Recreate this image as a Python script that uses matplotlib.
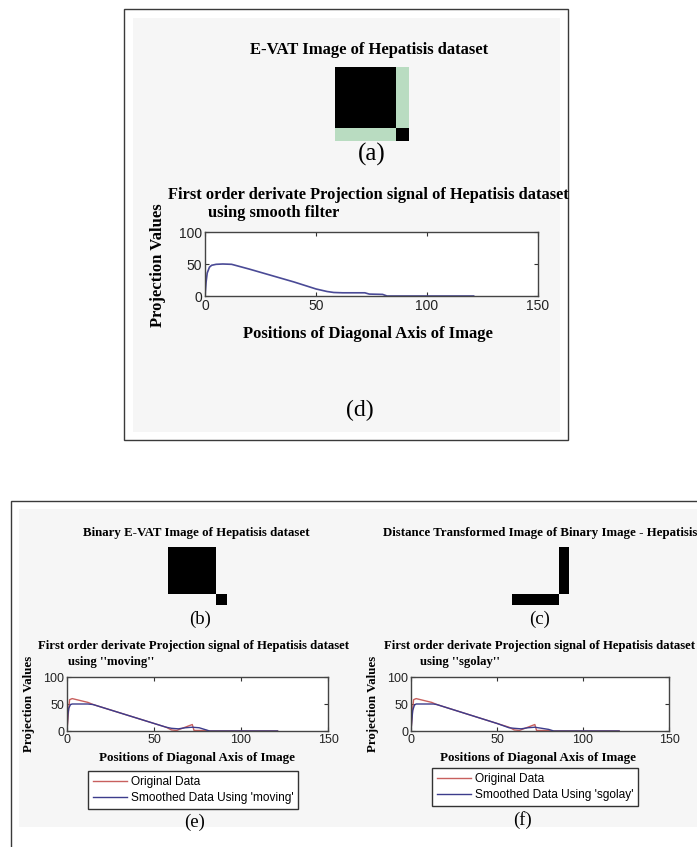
import numpy as np
import matplotlib
matplotlib.use("Agg")
import matplotlib.pyplot as plt
from matplotlib.patches import Rectangle
from matplotlib.colors import ListedColormap

W, H = 697, 847

# ---------------- data ----------------
block_sizes = [82, 18]  # relative sizes of the two clusters in the E-VAT image

x_ticks = [0, 50, 100, 150]
y_ticks = [0, 50, 100]

# (d) smooth filter projection signal
d_x = [0, 0.5, 1, 2, 3, 5, 8, 12, 20, 30, 40, 50, 55, 58, 62, 72, 74, 80, 82, 121]
d_y = [0, 22, 36, 45, 48, 49.5, 50, 49.5, 42, 32, 22, 11, 7, 5.5, 5, 5, 3, 2.5, 0, 0]

# original data (e, f)
orig_x = [0, 1, 1.5, 3, 12, 15, 30, 50, 57, 60, 63, 72, 73, 80, 82, 121]
orig_y = [0, 42, 58, 60, 53, 49, 34, 14, 7, 2, 1, 12, 1, 1, 0, 0]

# smoothed using 'moving'
mov_x = [0, 0.5, 1, 2, 3, 12, 15, 30, 50, 57, 60, 64, 68, 72, 76, 79, 82, 121]
mov_y = [0, 30, 42, 49, 50, 50, 49, 34, 14, 7, 5, 4, 6, 7, 6, 3, 0, 0]

# smoothed using 'sgolay'
sg_x = [0, 0.5, 1, 2, 3, 13, 15, 30, 50, 57, 60, 64, 68, 72, 76, 80, 83, 121]
sg_y = [0, 20, 38, 48, 50, 50, 49, 34, 14, 6, 5, 4, 6, 7, 5, 3, 0, 0]

# ---------------- helpers ----------------
def fx(x):
    return x / W

def fy(y):
    return 1 - y / H

def rect(l, t, r, b):
    return [l / W, 1 - b / H, (r - l) / W, (b - t) / H]

SERIF = ["Liberation Serif", "DejaVu Serif"]
SANS = ["Liberation Sans", "DejaVu Sans"]
RED = "#c8605e"
BLUE = "#3c3c8c"
DBLUE = "#4a4a96"
BG = "#f6f6f6"
GREEN = "#b9dcc1"

fig = plt.figure(figsize=(W / 100, H / 100), dpi=100)
fig.patch.set_facecolor("white")

def frect(l, t, r, b, **kw):
    p = Rectangle((fx(l), fy(b)), fx(r) - fx(l), fy(t) - fy(b),
                  transform=fig.transFigure, **kw)
    fig.add_artist(p)

# panel backgrounds / borders
frect(133, 18, 560, 432, facecolor=BG, edgecolor="none", zorder=0)
frect(124, 9, 568, 440, facecolor="none", edgecolor="#3a3a3a", lw=1.0, zorder=1)
frect(19, 509, 700, 827, facecolor=BG, edgecolor="none", zorder=0)
frect(11, 501, 705, 860, facecolor="none", edgecolor="#3a3a3a", lw=1.0, zorder=1)

def text(x, y, s, size, family=SERIF, weight="normal", ha="center", rot=0):
    fig.text(fx(x), fy(y), s, fontsize=size, family=family, weight=weight,
             ha=ha, va="center", rotation=rot)

# ---------------- images ----------------
lab = np.concatenate([np.full(s, i) for i, s in enumerate(block_sizes)])
same = (lab[:, None] == lab[None, :])

def img_axes(l, t, r, b, data, cmap):
    ax = fig.add_axes(rect(l, t, r, b))
    ax.imshow(data, cmap=cmap, vmin=0, vmax=1, interpolation="nearest", aspect="auto")
    ax.set_axis_off()
    return ax

img_axes(335, 67, 409, 141, (~same).astype(float), ListedColormap(["black", GREEN]))
img_axes(168, 547, 227, 605, (~same).astype(float), ListedColormap(["black", BG]))
img_axes(512, 547, 569, 605, same.astype(float), ListedColormap(["black", BG]))

# ---------------- plot axes ----------------
def plot_axes(l, t, r, b, tick_fs):
    ax = fig.add_axes(rect(l, t, r, b))
    ax.set_facecolor("white")
    ax.set_xlim(0, 150)
    ax.set_ylim(0, 100)
    ax.set_xticks(x_ticks)
    ax.set_yticks(y_ticks)
    ax.tick_params(direction="in", length=3, width=0.8, top=True, right=True,
                   labelsize=tick_fs, colors="#333333", pad=2)
    for lbl in ax.get_xticklabels() + ax.get_yticklabels():
        lbl.set_family(SANS)
        lbl.set_color("#222222")
    for s in ax.spines.values():
        s.set_color("#444444")
        s.set_linewidth(1.0)
    return ax

# (a)
text(369, 50, "E-VAT Image of Hepatisis dataset", 12, weight="bold")
text(372, 154, "(a)", 18)

# (d)
axd = plot_axes(205, 232, 538, 296, 10)
axd.plot(d_x, d_y, color=DBLUE, lw=1.2)
text(368, 195, "First order derivate Projection signal of Hepatisis dataset", 11.8, weight="bold")
text(208, 213, "using smooth filter", 11.8, weight="bold", ha="left")
text(158, 265, "Projection Values", 12, weight="bold", rot=90)
text(368, 334, "Positions of Diagonal Axis of Image", 12, weight="bold")
text(360, 410, "(d)", 17)

# (b), (c)
text(196, 533, "Binary E-VAT Image of Hepatisis dataset", 9.3, weight="bold")
text(200, 619, "(b)", 13.5)
text(697, 533, "Distance Transformed Image of Binary Image - Hepatisis", 9.3, weight="bold", ha="right")
text(540, 619, "(c)", 13.5)

# (e), (f)
panels = [
    dict(l=67, r=328, title_c=194, sub_x=68, sub="using ''moving''", yl_x=29,
         xl_c=197, leg=(88, 771), lab_c=(195, 822), sx=mov_x, sy=mov_y,
         name="Smoothed Data Using 'moving'", tag="(e)"),
    dict(l=411, r=669, title_c=540, sub_x=420, sub="using ''sgolay''", yl_x=373,
         xl_c=538, leg=(432, 768), lab_c=(522, 820), sx=sg_x, sy=sg_y,
         name="Smoothed Data Using 'sgolay'", tag="(f)"),
]
for p in panels:
    ax = plot_axes(p["l"], 677, p["r"], 731, 9)
    ax.plot(orig_x, orig_y, color=RED, lw=1.0, label="Original Data")
    ax.plot(p["sx"], p["sy"], color=BLUE, lw=1.0, label=p["name"])
    text(p["title_c"], 646, "First order derivate Projection signal of Hepatisis dataset", 9.2, weight="bold")
    text(p["sub_x"], 662, p["sub"], 9.2, weight="bold", ha="left")
    text(p["yl_x"], 704, "Projection Values", 9.3, weight="bold", rot=90)
    text(p["xl_c"], 758, "Positions of Diagonal Axis of Image", 9.4, weight="bold")
    leg = ax.legend(loc="upper left", bbox_to_anchor=(fx(p["leg"][0]), fy(p["leg"][1])),
                    bbox_transform=fig.transFigure, fancybox=False, framealpha=1,
                    edgecolor="#333333", prop={"family": SANS, "size": 8.6},
                    handlelength=2.9, handletextpad=0.3, borderpad=0.4,
                    labelspacing=0.35, borderaxespad=0)
    leg.get_frame().set_linewidth(1.0)
    text(p["lab_c"][0], p["lab_c"][1], p["tag"], 13.5)

fig.savefig("out.png", dpi=100)
